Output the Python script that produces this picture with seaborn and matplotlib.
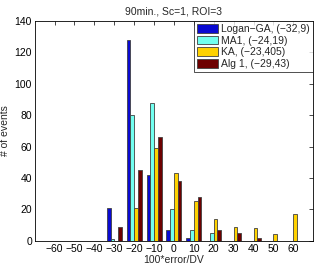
import matplotlib
matplotlib.use("Agg")
import matplotlib.pyplot as plt
import seaborn as sns
import pandas as pd

bins = [-30, -20, -10, 0, 10, 20, 30, 40, 50, 60]
logan_ga = [21, 128, 42, 7, 2, 0, 0, 0, 0, 0]
ma1 = [1, 80, 88, 20, 7, 5, 0, 0, 0, 0]
ka = [0, 21, 59, 43, 25, 14, 9, 8, 4, 17]
alg1 = [9, 45, 66, 38, 28, 7, 5, 2, 0, 0]
labels = ["Logan\u2212GA, (\u221232,9)", "MA1, (\u221224,19)",
          "KA, (\u221223,405)", "Alg 1, (\u221229,43)"]
colors = ["#0a0ad2", "#72fff0", "#ffd200", "#6e0000"]

rows = []
for lab, vals in zip(labels, [logan_ga, ma1, ka, alg1]):
  for b, v in zip(bins, vals):
    rows.append({"bin": b, "count": v, "method": lab})
df = pd.DataFrame(rows)

sns.set_style("white")
plt.rcParams["font.family"] = ["Liberation Sans", "DejaVu Sans"]
fs = 7.5

fig = plt.figure(figsize=(3.18, 2.66), dpi=100)
ax = fig.add_axes([0.109, 0.095, 0.876, 0.826])
sns.barplot(data=df, x="bin", y="count", hue="method", hue_order=labels,
            palette=colors, saturation=1, native_scale=True, width=0.75,
            dodge=True, edgecolor="#404040", linewidth=0.6, ax=ax,
            errorbar=None)

ax.set_xlim(-70, 70)
ax.set_ylim(0, 140)
ax.set_xticks(range(-60, 61, 10))
ax.set_xticklabels([str(t).replace("-", "\u2212") for t in range(-60, 61, 10)])
ax.set_yticks(range(0, 141, 20))
ax.tick_params(direction="in", length=3, width=0.5, top=True, right=True,
               labelsize=fs, pad=2, colors="black")
for s in ax.spines.values():
  s.set_color("black")
  s.set_linewidth(0.6)
ax.set_xlabel("100*error/DV", fontsize=fs, labelpad=1)
ax.set_ylabel("# of events", fontsize=fs, labelpad=3)
ax.set_title("90min., Sc=1, ROI=3", fontsize=fs, pad=5)

leg = ax.legend(loc="upper right", fontsize=fs, frameon=True, fancybox=False,
                borderaxespad=0, handlelength=2.0, handleheight=0.9,
                labelspacing=0.15, borderpad=0.3, handletextpad=0.3)
leg.get_frame().set_edgecolor("black")
leg.get_frame().set_linewidth(0.6)

fig.savefig("out.png", dpi=100)
